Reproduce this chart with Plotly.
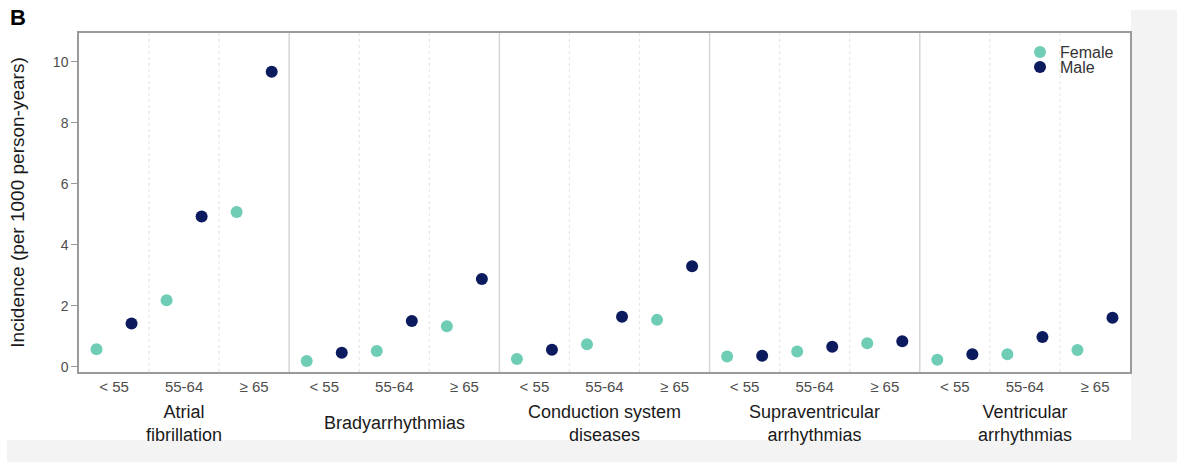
import plotly.graph_objects as go

# ---- data ----
groups = ["Atrial<br>fibrillation", "Bradyarrhythmias", "Conduction system<br>diseases",
          "Supraventricular<br>arrhythmias", "Ventricular<br>arrhythmias"]
ages = ["< 55", "55-64", "≥ 65"]
female = [0.58, 2.18, 5.08,
          0.19, 0.52, 1.33,
          0.26, 0.74, 1.54,
          0.34, 0.50, 0.77,
          0.23, 0.41, 0.55]
male = [1.42, 4.93, 9.68,
        0.46, 1.50, 2.88,
        0.56, 1.64, 3.30,
        0.36, 0.66, 0.84,
        0.41, 0.98, 1.61]

FONT = "Liberation Sans, Arial, Helvetica, sans-serif"
W, H = 1177, 462
L, R, T, B = 79, 47, 33, 90
PW, PH = W - L - R, H - T - B

def px_x(p):
    return (p - L) / PW

def px_y(p):
    return (H - B - p) / PH

n_cells = len(groups) * len(ages)
centers = list(range(1, n_cells + 1))
x_f = [c - 0.25 for c in centers]
x_m = [c + 0.25 for c in centers]
tick_text = [ages[i % len(ages)] for i in range(n_cells)]

fig = go.Figure()
fig.add_trace(go.Scatter(x=x_f, y=female, mode="markers", name="Female", legend="legend",
                         marker=dict(color="#6fcdb6", size=12, line=dict(width=0))))
fig.add_trace(go.Scatter(x=x_m, y=male, mode="markers", name="Male", legend="legend2",
                         marker=dict(color="#0c1a5e", size=12, line=dict(width=0))))

shapes = []
# background gray strips of the figure image
shapes.append(dict(type="rect", xref="paper", yref="paper", layer="below",
                   x0=px_x(1131), x1=px_x(1177), y0=px_y(462), y1=px_y(10),
                   fillcolor="#f3f3f3", line=dict(width=0)))
shapes.append(dict(type="rect", xref="paper", yref="paper", layer="below",
                   x0=px_x(7), x1=px_x(1131), y0=px_y(462), y1=px_y(440),
                   fillcolor="#f3f3f3", line=dict(width=0)))
# separators between cells
for k in range(1, n_cells):
    xb = k + 0.5
    if k % len(ages) == 0:
        shapes.append(dict(type="line", xref="x", yref="paper", x0=xb, x1=xb, y0=0, y1=1,
                           layer="below", line=dict(color="#d6d6d6", width=1.5)))
    else:
        shapes.append(dict(type="line", xref="x", yref="paper", x0=xb, x1=xb, y0=0, y1=1,
                           layer="below", line=dict(color="#e6e6e6", width=1.2, dash="dot")))

annotations = []
for gi, g in enumerate(groups):
    annotations.append(dict(x=gi * len(ages) + 2, y=px_y(423), xref="x", yref="paper",
                            text=g, showarrow=False, xanchor="center", yanchor="middle",
                            font=dict(family=FONT, size=18, color="#1a1a1a")))
annotations.append(dict(x=px_x(8), y=px_y(18), xref="paper", yref="paper", text="<b>B</b>",
                        showarrow=False, xanchor="left", yanchor="middle",
                        font=dict(family=FONT, size=22, color="#000000")))

leg_common = dict(xanchor="left", yanchor="middle", bgcolor="rgba(0,0,0,0)",
                  font=dict(family=FONT, size=16, color="#333333"), itemsizing="constant")

fig.update_layout(
    width=W, height=H,
    margin=dict(l=L, r=R, t=T, b=B, autoexpand=False),
    paper_bgcolor="white", plot_bgcolor="white",
    font=dict(family=FONT),
    shapes=shapes, annotations=annotations,
    showlegend=True,
    legend=dict(x=px_x(1020), y=px_y(52), **leg_common),
    legend2=dict(x=px_x(1020), y=px_y(67), **leg_common),
    xaxis=dict(range=[0.5, n_cells + 0.5], tickmode="array", tickvals=centers,
               ticktext=tick_text, showgrid=False, zeroline=False,
               showline=True, mirror=True, linecolor="#9a9a9a", linewidth=1.5,
               ticks="", tickfont=dict(family=FONT, size=15, color="#4d4d4d")),
    yaxis=dict(range=[-0.17, 10.95], tickvals=[0, 2, 4, 6, 8, 10], showgrid=False,
               zeroline=False, showline=True, mirror=True, linecolor="#9a9a9a", linewidth=1.5,
               ticks="outside", ticklen=6, tickcolor="#9a9a9a",
               tickfont=dict(family=FONT, size=14, color="#4d4d4d"),
               title=dict(text="Incidence (per 1000 person-years)", standoff=23,
                          font=dict(family=FONT, size=19, color="#1a1a1a"))),
)

fig.write_html("out.html")
